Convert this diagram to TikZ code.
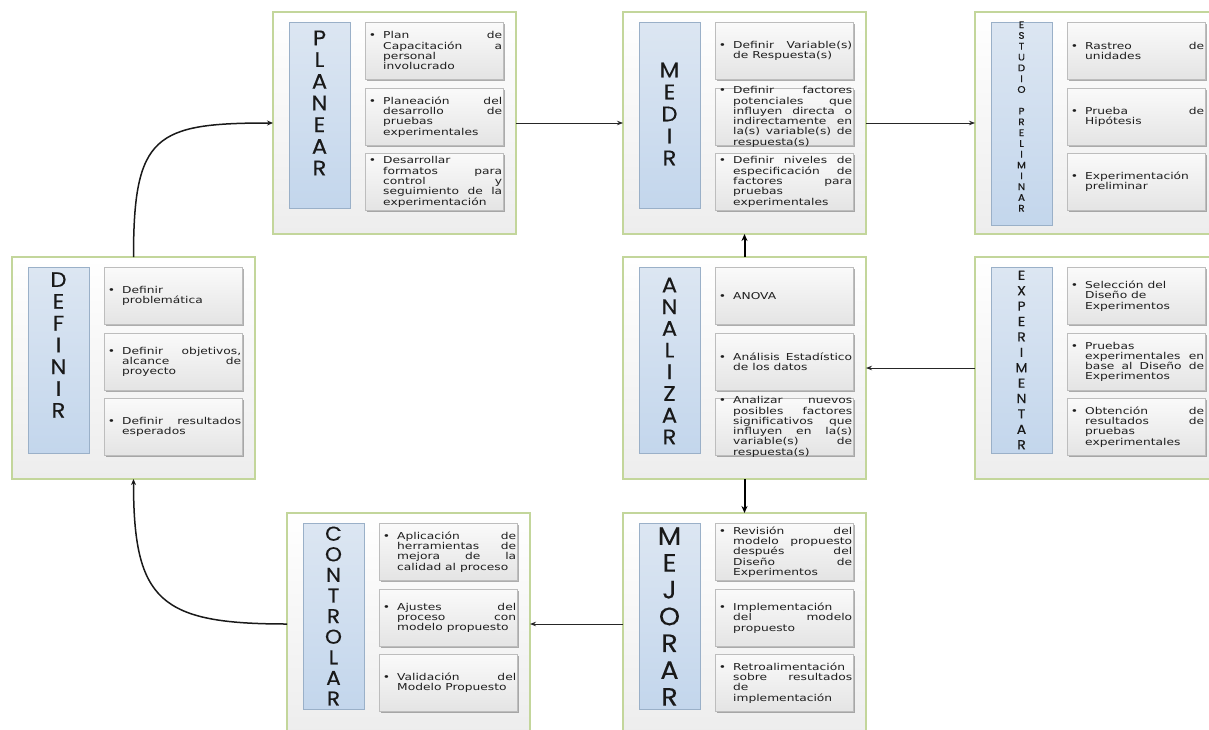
\documentclass[tikz,border=0pt]{standalone}
\usepackage{fontspec}
\setmainfont{DejaVu Sans}
\newfontfamily\itemfont[FakeStretch=1.29]{DejaVu Sans}
\newfontfamily\labelfont[FakeBold=0.35,FakeStretch=1.08]{Poppins}
\usetikzlibrary{arrows.meta,shadows}

\definecolor{olivebd}{HTML}{C3D69B}
\definecolor{outerbot}{HTML}{EDEDED}
\definecolor{bluetop}{HTML}{DCE6F2}
\definecolor{bluebot}{HTML}{C3D6EC}
\definecolor{bluebd}{HTML}{9AB0C8}
\definecolor{itemtop}{HTML}{FAFAFA}
\definecolor{itembot}{HTML}{E4E4E4}
\definecolor{itembd}{HTML}{BDBDBD}
\definecolor{textgray}{HTML}{1E1E1E}

\hyphenpenalty=10000
\exhyphenpenalty=10000
\tolerance=10000
\hbadness=10000

\tikzset{
  outerbox/.style={draw=olivebd, line width=1.3pt, top color=white, bottom color=outerbot,
    minimum width=243pt, minimum height=222pt, anchor=north west, inner sep=0pt, outer sep=0pt},
  bluebox/.style={draw=bluebd, line width=0.8pt, top color=bluetop, bottom color=bluebot,
    minimum width=61pt, anchor=north west, inner sep=0pt},
  itembox/.style={draw=itembd, line width=0.8pt, top color=itemtop, bottom color=itembot,
    minimum width=138pt, minimum height=57pt, anchor=north west, inner sep=0pt,
    drop shadow={shadow xshift=1.2pt, shadow yshift=-1.2pt, opacity=0.3, fill=black}},
  itemtext/.style={font=\itemfont\fontsize{9.5}{10.3}\selectfont, text=textgray,
    text width=119pt, align=justify, inner sep=0pt, anchor=west},
  biglabel/.style={align=center, inner sep=0pt, text=black!90},
  arr/.style={draw=black!85, line width=0.9pt, -{Stealth[length=6pt,width=4.5pt]}},
  thickarr/.style={draw=black, line width=2pt, -{Stealth[length=7pt,width=6pt]}},
  curvearr/.style={draw=black!90, line width=1.5pt, -{Stealth[length=6pt,width=5pt]}},
}

% one stage: name, x, y, vertical title, title font, title-bar height, title centre (y)
\newcommand\stagebox[7]{%
  \begin{scope}[shift={(#2,#3)}]
    \node[outerbox] (#1) at (0,0) {};
    \node[bluebox, minimum height=#6] (#1-b) at (16,10) {};
    \node[biglabel, font={#5}] (#1-l) at (46.5,#7) {#4};
    \node[itembox] (#1-1) at (92,10) {};
    \node[itembox] (#1-2) at (92,76) {};
    \node[itembox] (#1-3) at (92,141) {};
  \end{scope}}
\newcommand\bul{\leavevmode\llap{\textbullet\hspace{7pt}}}
\newcommand\itemtext[2]{\node[itemtext] (#1-t) at ([xshift=18pt]#1.west) {\bul #2};}
\newcommand\bigf[2]{\labelfont\fontsize{#1}{#2}\selectfont}

\begin{document}
\begin{tikzpicture}[x=1pt,y=-1pt]
\useasboundingbox (0,0) rectangle (1209,730);
\clip (0,0) rectangle (1209,730);
\fill[white] (0,0) rectangle (1209,730);

% top row
\stagebox{planear}{273}{12}{P\\L\\A\\N\\E\\A\\R}{\bigf{21}{21.7}}{186pt}{91}
\stagebox{medir}{623}{12}{M\\E\\D\\I\\R}{\bigf{21}{22}}{186pt}{102}
\stagebox{estudio}{975}{12}{E\\S\\T\\U\\D\\I\\O\\\mbox{}\\P\\R\\E\\L\\I\\M\\I\\N\\A\\R}{\bigf{9.5}{10.8}}{203pt}{104.5}
% middle row
\stagebox{definir}{12}{257}{D\\E\\F\\I\\N\\I\\R}{\bigf{21}{21.8}}{186pt}{88}
\stagebox{analizar}{623}{257}{A\\N\\A\\L\\I\\Z\\A\\R}{\bigf{21}{21.7}}{186pt}{104}
\stagebox{experimentar}{975}{257}{E\\X\\P\\E\\R\\I\\M\\E\\N\\T\\A\\R}{\bigf{13}{15.4}}{186pt}{103}
% bottom row
\stagebox{controlar}{287}{513}{C\\O\\N\\T\\R\\O\\L\\A\\R}{\bigf{20}{20.6}}{186pt}{103}
\stagebox{mejorar}{623}{513}{M\\E\\J\\O\\R\\A\\R}{\bigf{25}{26.8}}{186pt}{103.5}

% task texts
\itemtext{planear-1}{Plan de\linebreak Capacitación a\linebreak personal\linebreak involucrado}
\itemtext{planear-2}{Planeación del\linebreak desarrollo de\linebreak pruebas\linebreak experimentales}
\itemtext{planear-3}{Desarrollar\linebreak formatos para\linebreak control y\linebreak seguimiento de la\linebreak experimentación}

\itemtext{medir-1}{Definir Variable(s)\linebreak de Respuesta(s)}
\itemtext{medir-2}{Definir factores\linebreak potenciales que\linebreak influyen directa o\linebreak indirectamente en\linebreak la(s) variable(s) de\linebreak respuesta(s)}
\itemtext{medir-3}{Definir niveles de\linebreak especificación de\linebreak factores para\linebreak pruebas\linebreak experimentales}

\itemtext{estudio-1}{Rastreo de\linebreak unidades}
\itemtext{estudio-2}{Prueba de\linebreak Hipótesis}
\itemtext{estudio-3}{Experimentación\linebreak preliminar}

\itemtext{definir-1}{Definir\linebreak problemática}
\itemtext{definir-2}{Definir objetivos,\linebreak alcance de\linebreak proyecto}
\itemtext{definir-3}{Definir resultados\linebreak esperados}

\itemtext{analizar-1}{ANOVA}
\itemtext{analizar-2}{Análisis Estadístico\linebreak de los datos}
\itemtext{analizar-3}{Analizar nuevos\linebreak posibles factores\linebreak significativos que\linebreak influyen en la(s)\linebreak variable(s) de\linebreak respuesta(s)}

\itemtext{experimentar-1}{Selección del\newline Diseño de\newline Experimentos}
\itemtext{experimentar-2}{Pruebas\linebreak experimentales en\linebreak base al Diseño de\linebreak Experimentos}
\itemtext{experimentar-3}{Obtención de\linebreak resultados de\linebreak pruebas\linebreak experimentales}

\itemtext{controlar-1}{Aplicación de\linebreak herramientas de\linebreak mejora de la\linebreak calidad al proceso}
\itemtext{controlar-2}{Ajustes del\linebreak proceso con\linebreak modelo propuesto}
\itemtext{controlar-3}{Validación del\linebreak Modelo Propuesto}

\itemtext{mejorar-1}{Revisión del\linebreak modelo propuesto\linebreak después del\linebreak Diseño de\linebreak Experimentos}
\itemtext{mejorar-2}{Implementación\linebreak del modelo\linebreak propuesto}
\itemtext{mejorar-3}{Retroalimentación\linebreak sobre resultados\linebreak de\linebreak implementación}

% flow between the stages
\draw[curvearr] (definir.north) .. controls +(0,-122) and +(-118,0) .. (planear.west);
\draw[arr] (planear.east) -- (medir.west);
\draw[arr] (medir.east) -- (estudio.west);
\draw[thickarr] (analizar.north) -- (medir.south);
\draw[arr] (experimentar.west) -- (analizar.east);
\draw[thickarr] (analizar.south) -- (mejorar.north);
\draw[arr] (mejorar.west) -- (controlar.east);
\draw[curvearr] (controlar.west) .. controls +(-127,0) and +(0,122) .. (definir.south);
\end{tikzpicture}
\end{document}
